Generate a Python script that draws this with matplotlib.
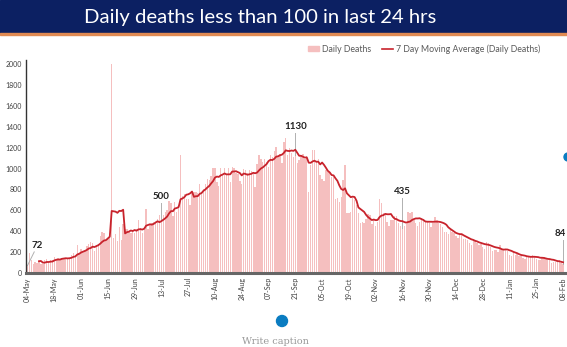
import numpy as np
import pandas as pd
import matplotlib
matplotlib.use("Agg")
import matplotlib.pyplot as plt
from matplotlib.patches import Rectangle, Ellipse
from matplotlib.lines import Line2D
from matplotlib.patches import Patch

plt.rcParams['font.family'] = ['Lato', 'DejaVu Sans']

# daily deaths, one row per week starting 04-May-2020 (Mon), last value 08-Feb-2021
daily_deaths = [
    72, 195, 126, 89, 103, 95, 111,
    87, 87, 122, 134, 100, 120, 120,
    157, 134, 140, 132, 148, 137, 142,
    146, 146, 170, 194, 175, 265, 193,
    230, 204, 217, 260, 273, 294, 287,
    206, 266, 279, 357, 396, 386, 311,
    325, 380, 2003, 334, 375, 306, 445,
    312, 465, 418, 418, 407, 384, 410,
    380, 418, 507, 434, 379, 442, 613,
    425, 467, 482, 487, 475, 519, 551,
    500, 553, 582, 606, 687, 671, 543,
    681, 587, 648, 1129, 740, 757, 705,
    708, 654, 768, 775, 779, 764, 853,
    771, 803, 857, 904, 886, 933, 1007,
    1007, 871, 834, 1007, 942, 1007, 944,
    1007, 876, 1020, 1010, 960, 950, 880,
    848, 1000, 990, 960, 990, 980, 948,
    819, 1045, 1133, 1089, 1065, 1089, 1065,
    1016, 1133, 1115, 1172, 1209, 1114, 1136,
    1054, 1250, 1290, 1132, 1200, 1150, 1110,
    1130, 1053, 1085, 1129, 1141, 1089, 1124,
    776, 1039, 1179, 1181, 1069, 1095, 940,
    903, 884, 986, 971, 964, 918, 918,
    706, 717, 680, 730, 895, 1033, 579,
    579, 587, 717, 703, 650, 578, 480,
    488, 480, 517, 563, 551, 470, 514,
    449, 490, 704, 670, 577, 559, 490,
    447, 508, 512, 543, 547, 480, 450,
    435, 449, 474, 584, 576, 585, 511,
    480, 447, 488, 524, 518, 485, 496,
    482, 443, 482, 540, 512, 482, 473,
    440, 390, 395, 370, 410, 390, 380,
    355, 340, 360, 370, 330, 325, 315,
    290, 270, 320, 310, 290, 265, 275,
    251, 226, 299, 286, 250, 214, 224,
    217, 201, 264, 222, 226, 228, 214,
    168, 161, 201, 175, 181, 163, 162,
    145, 137, 162, 151, 163, 168, 162,
    131, 127, 123, 148, 151, 137, 127,
    120, 94, 107, 110, 107, 120, 95,
    84,
]
dates = pd.date_range('2020-05-04', periods=len(daily_deaths), freq='D')
tick_dates = pd.date_range('2020-05-04', '2021-02-08', freq='14D')
callouts = ['2020-05-04', '2020-07-13', '2020-09-21', '2020-11-16', '2021-02-08']
y_ticks = list(range(0, 2001, 200))

s = pd.Series(daily_deaths, index=dates)
moving_avg = s.rolling(7).mean()
x = np.arange(len(s))

fig = plt.figure(figsize=(5.67, 3.47), dpi=100)

# title banner
fig.add_artist(Rectangle((0, 1 - 33/347), 1, 33/347, transform=fig.transFigure,
                         color='#0c2062', zorder=0))
fig.add_artist(Rectangle((0, 1 - 35/347), 1, 2/347, transform=fig.transFigure,
                         color='#e08a52', zorder=0))
fig.text(260/567, 1 - 17/347, 'Daily deaths less than 100 in last 24 hrs', color='white',
         fontsize=14.6, ha='center', va='center')

ax = fig.add_axes([26/567, 1 - 273/347, 539/567, (273 - 60)/347])
ax.bar(x, s.values, width=0.72, color='#f5bfbf', zorder=1)
ax.plot(x, moving_avg.values, color='#c8232c', lw=1.3, zorder=3)

ax.set_xlim(-0.8, 281)
ax.set_ylim(0, 2040)
ax.set_yticks(y_ticks)
ax.set_yticklabels([str(v) for v in y_ticks], fontsize=5, color='#404040')
ax.set_xticks([(d - dates[0]).days for d in tick_dates])
ax.set_xticklabels([d.strftime('%d-%b') for d in tick_dates], rotation=90,
                   fontsize=5, color='#404040')
ax.tick_params(length=0, pad=3)
for side in ['top', 'right']:
    ax.spines[side].set_visible(False)
ax.spines['left'].set_color('#333333')
ax.spines['left'].set_linewidth(1)
ax.spines['bottom'].set_color('#666666')
ax.spines['bottom'].set_linewidth(2.2)

# callouts: (label x offset, leader x offset, label height above bar)
offsets = {'2020-05-04': (5, 3.5, 150), '2020-07-13': (0, 0, 190),
           '2020-09-21': (0, 0, 230), '2020-11-16': (0, 0, 300),
           '2021-02-08': (-1.5, 0, 250)}
for d in callouts:
    i = (pd.Timestamp(d) - dates[0]).days
    v = daily_deaths[i]
    dx, lx, dy = offsets[d]
    ax.plot([i, i + lx], [v, v + dy - 20], color='#b0b0b0', lw=0.7, zorder=2)
    ax.text(i + dx, v + dy, str(v), fontsize=7, fontweight='bold',
            ha='center', va='bottom', color='#222222')

handles = [Patch(color='#f5bfbf'), Line2D([0], [0], color='#c8232c', lw=1.2)]
fig.legend(handles, ['Daily Deaths', '7 Day Moving Average (Daily Deaths)'],
           loc='center left', bbox_to_anchor=(300/567, 1 - 49/347), ncol=2,
           frameon=False, fontsize=6.3, handlelength=1.3, handleheight=0.6,
           handletextpad=0.3, columnspacing=1.2, labelcolor='#595959')

# decorations below the chart
fig.add_artist(Ellipse((282/567, 1 - 321/347), 11/567, 11/347,
                       transform=fig.transFigure, color='#0a7cc1'))
fig.add_artist(Ellipse((568/567, 1 - 157/347), 8/567, 8/347,
                       transform=fig.transFigure, color='#0a7cc1'))
fig.text(275/567, 1 - 346/347, 'Write caption', fontsize=7, color='#999999',
         family='DejaVu Serif', ha='center', va='bottom')

fig.savefig('out.png', dpi=100)
